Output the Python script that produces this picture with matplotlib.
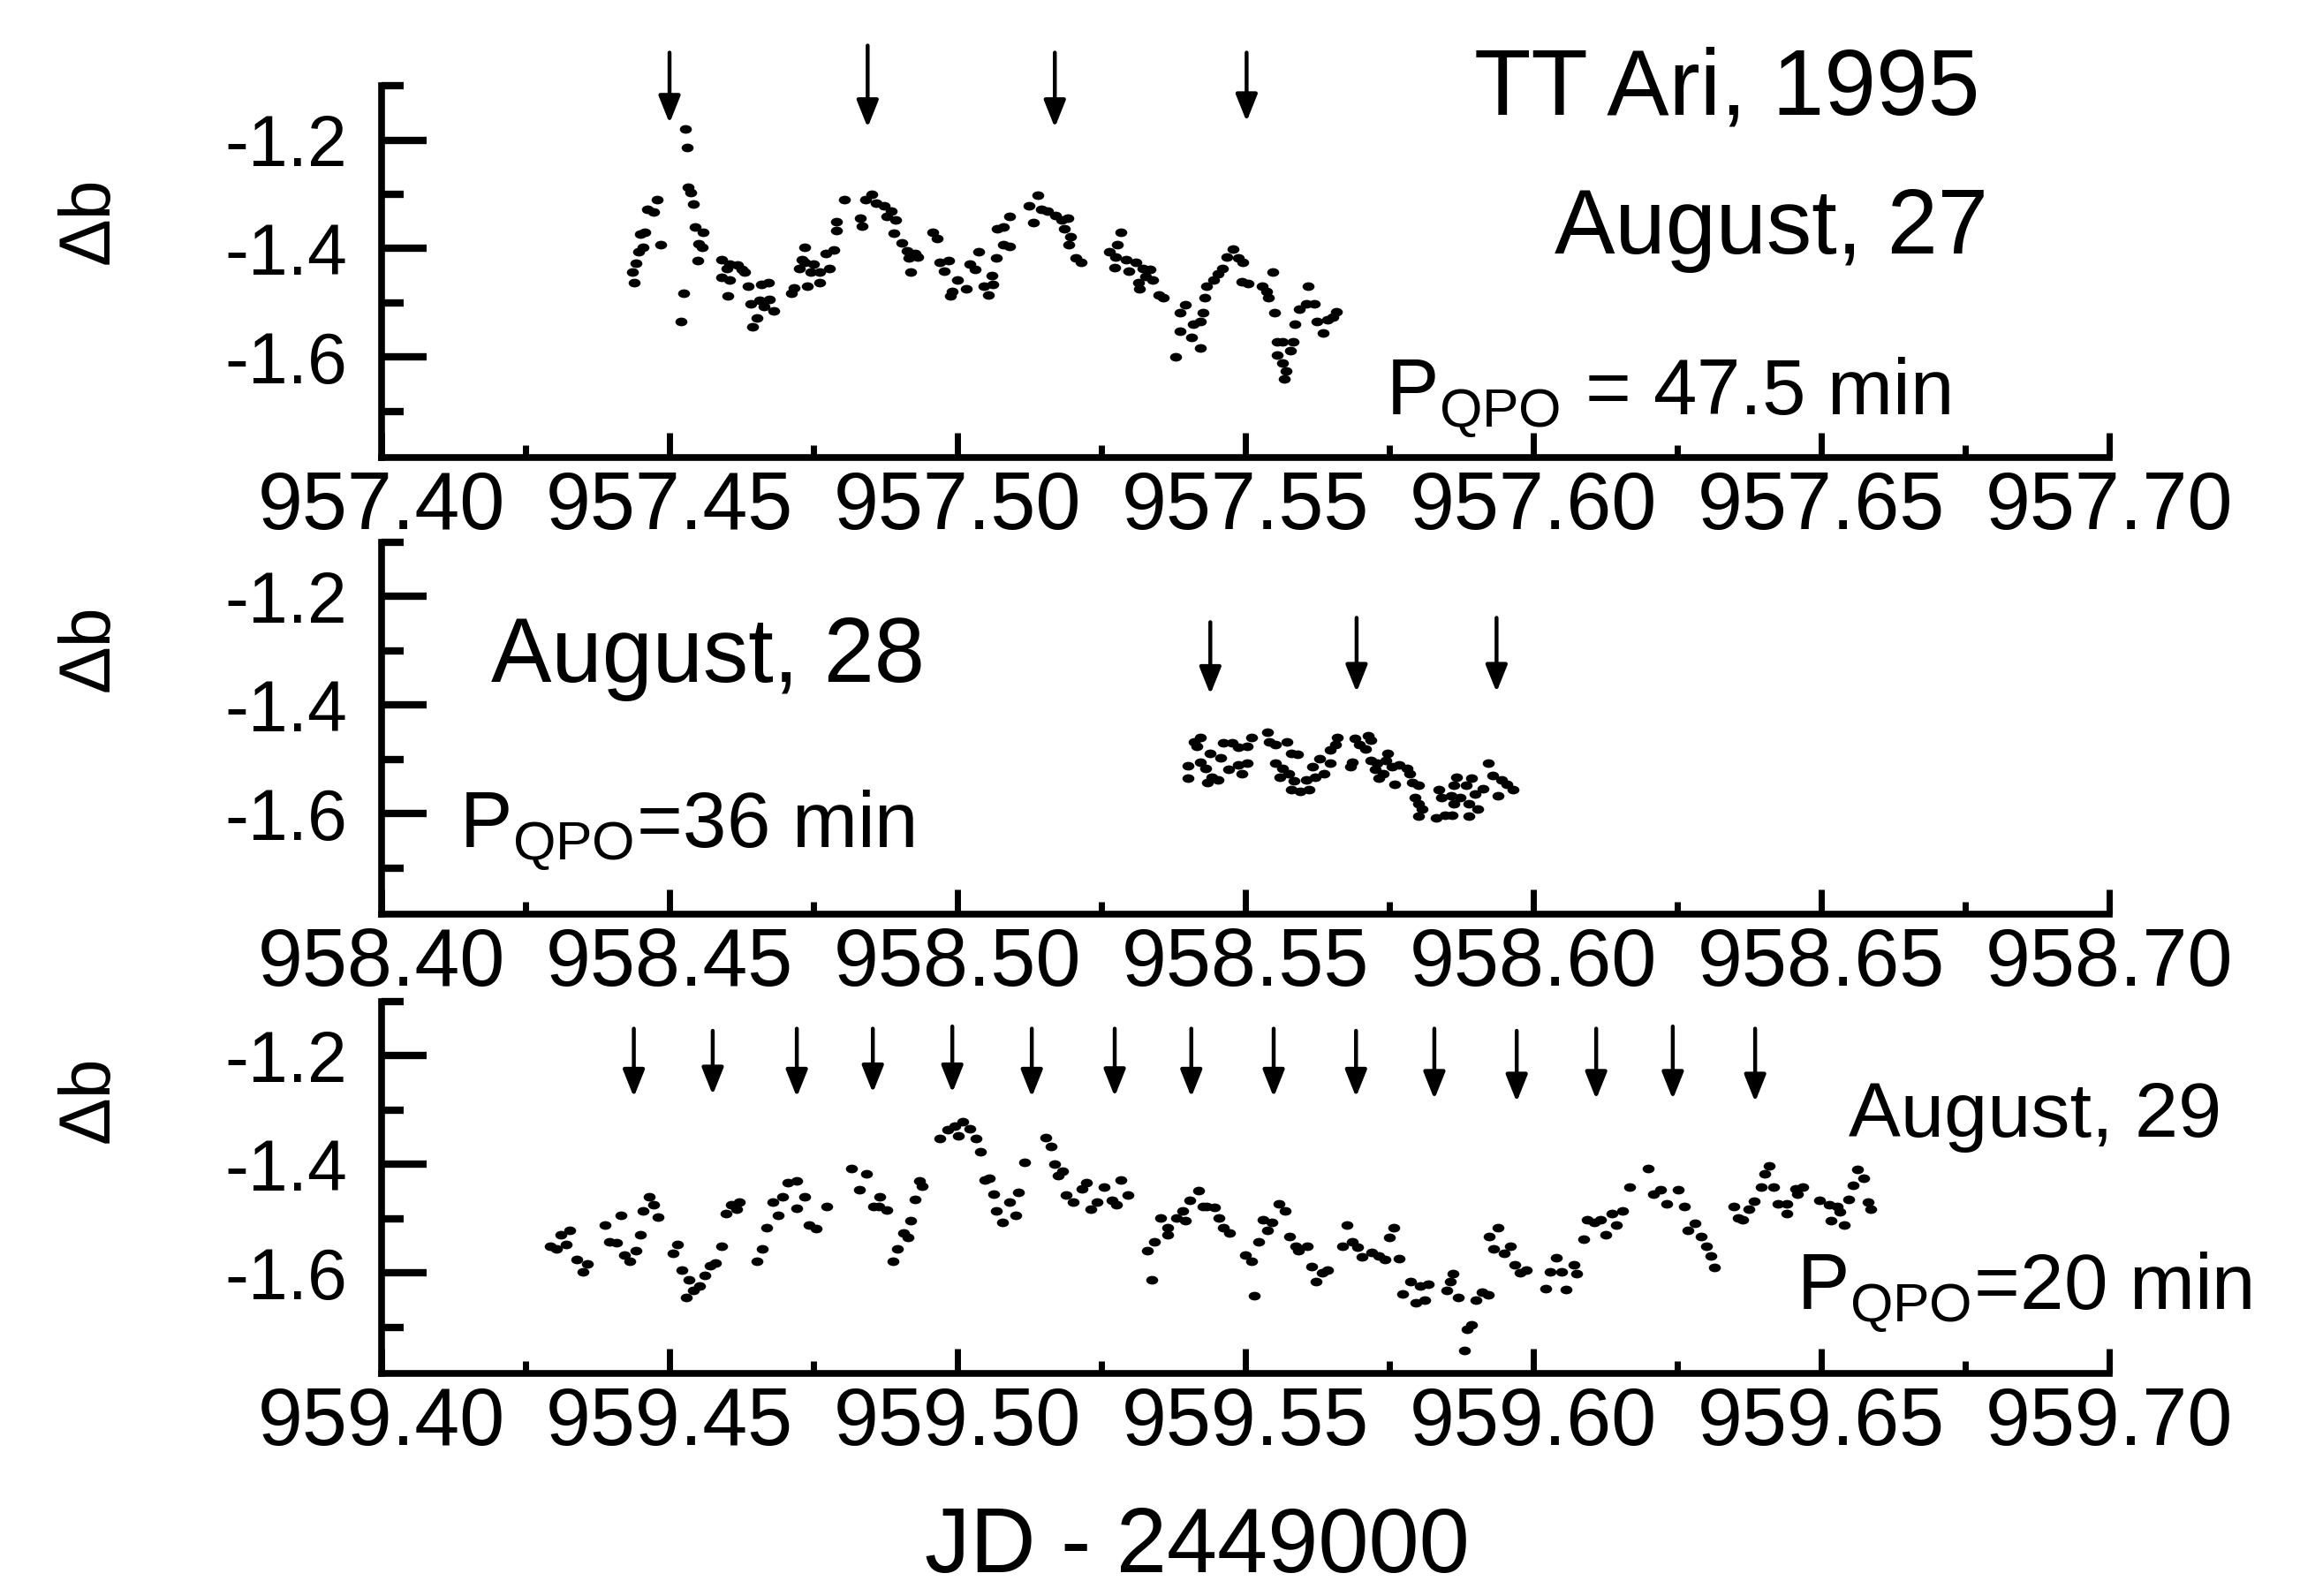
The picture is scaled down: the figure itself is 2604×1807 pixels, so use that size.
import matplotlib
matplotlib.use("Agg")
import matplotlib.pyplot as plt
from matplotlib.path import Path
from matplotlib.transforms import Affine2D
from matplotlib.ticker import FixedLocator, FormatStrFormatter

plt.rcParams['font.family'] = ['Liberation Sans', 'DejaVu Sans']
plt.rcParams['mathtext.fontset'] = 'custom'
plt.rcParams['mathtext.rm'] = 'Liberation Sans'
plt.rcParams['mathtext.it'] = 'Liberation Sans:italic'
plt.rcParams['axes.unicode_minus'] = False

# ---- August 27 (JD - 2449000) ----
aug27_jd = [957.4439, 957.4436, 957.4442, 957.4446, 957.4454, 957.4449, 957.4457, 957.4462, 957.4472, 957.4479, 957.4485,
            957.4527, 957.4530, 957.4532, 957.4537, 957.4541, 957.4545, 957.4559, 957.4551, 957.4557, 957.4549, 957.4525, 957.4520,
            957.4590, 957.4605, 957.4618, 957.4600, 957.4626, 957.4631, 957.4590, 957.4605, 957.4601, 957.4636, 957.4659, 957.4672,
            957.4641, 957.4657, 957.4674, 957.4664, 957.4681, 957.4652, 957.4644,
            957.4712, 957.4716, 957.4739, 957.4760, 957.4725, 957.4735, 957.4750, 957.4730, 957.4735, 957.4745, 957.4761, 957.4777,
            957.4772, 957.4785, 957.4790, 957.4790, 957.4803, 957.4831, 957.4835, 957.4841, 957.4851, 957.4859, 957.4872, 957.4885,
            957.4877, 957.4892, 957.4890, 957.4903, 957.4913, 957.4926, 957.4915, 957.4931, 957.4918,
            957.4957, 957.4964, 957.4969, 957.4985, 957.4977, 957.5000, 957.4990, 957.4987, 957.5015, 957.5021, 957.5031, 957.5036,
            957.5046, 957.5054, 957.5059, 957.5062, 957.5067, 957.5069,
            957.5080, 957.5080, 957.5091, 957.5091, 957.5124, 957.5139, 957.5132, 957.5145, 957.5157, 957.5170, 957.5181, 957.5191,
            957.5186, 957.5196, 957.5193, 957.5206, 957.5214,
            957.5283, 957.5278, 957.5263, 957.5275, 957.5273, 957.5293, 957.5309, 957.5298, 957.5322, 957.5334, 957.5327, 957.5314,
            957.5339, 957.5316, 957.5350, 957.5357,
            957.5396, 957.5386, 957.5427, 957.5422, 957.5409, 957.5386, 957.5406, 957.5422, 957.5378,
            957.5429, 957.5432, 957.5445, 957.5452, 957.5460, 957.5468, 957.5478, 957.5488, 957.5496, 957.5493, 957.5504,
            957.5529, 957.5537, 957.5540, 957.5547, 957.5550, 957.5555, 957.5565, 957.5583, 957.5578, 957.5555, 957.5565, 957.5570,
            957.5568,
            957.5586, 957.5593, 957.5606, 957.5619, 957.5609, 957.5624, 957.5635, 957.5642, 957.5652, 957.5658]
aug27_db = [-1.462, -1.444, -1.427, -1.405, -1.398, -1.374, -1.370, -1.328, -1.333, -1.310, -1.393,
            -1.180, -1.214, -1.287, -1.296, -1.318, -1.360, -1.370, -1.391, -1.397, -1.422, -1.482, -1.535,
            -1.420, -1.428, -1.431, -1.436, -1.439, -1.444, -1.453, -1.458, -1.487, -1.470, -1.466, -1.462,
            -1.501, -1.496, -1.493, -1.507, -1.515, -1.528, -1.544,
            -1.482, -1.472, -1.469, -1.462, -1.436, -1.425, -1.428, -1.420, -1.397, -1.444, -1.444, -1.437,
            -1.409, -1.402, -1.366, -1.350, -1.310, -1.344, -1.358, -1.310, -1.300, -1.317, -1.322, -1.331,
            -1.341, -1.347, -1.371, -1.390, -1.404, -1.409, -1.417, -1.415, -1.444,
            -1.370, -1.382, -1.425, -1.422, -1.442, -1.458, -1.479, -1.487, -1.474, -1.428, -1.439, -1.405,
            -1.469, -1.485, -1.450, -1.466, -1.417, -1.363,
            -1.360, -1.393, -1.396, -1.340, -1.322, -1.301, -1.352, -1.328, -1.331, -1.339, -1.347, -1.344,
            -1.363, -1.378, -1.392, -1.417, -1.425,
            -1.370, -1.393, -1.406, -1.415, -1.435, -1.420, -1.425, -1.442, -1.436, -1.439, -1.452, -1.463,
            -1.458, -1.474, -1.485, -1.490,
            -1.504, -1.518, -1.518, -1.534, -1.539, -1.553, -1.564, -1.583, -1.600,
            -1.490, -1.469, -1.458, -1.447, -1.436, -1.415, -1.401, -1.417, -1.425, -1.461, -1.464,
            -1.469, -1.479, -1.490, -1.444, -1.518, -1.572, -1.572, -1.572, -1.588, -1.596, -1.610, -1.626,
            -1.640,
            -1.539, -1.512, -1.501, -1.501, -1.469, -1.534, -1.555, -1.531, -1.526, -1.517]

# ---- August 28 ----
aug28_jd = [958.5421, 958.5416, 958.5411, 958.5400, 958.5400, 958.5421, 958.5439, 958.5431, 958.5441, 958.5434, 958.5452,
            958.5462, 958.5477, 958.5457, 958.5470, 958.5488, 958.5503, 958.5493, 958.5488, 958.5503, 958.5511, 958.5539,
            958.5541, 958.5552, 958.5572, 958.5580, 958.5590, 958.5552, 958.5565, 958.5559, 958.5575, 958.5585, 958.5580,
            958.5595, 958.5611, 958.5606, 958.5621, 958.5636, 958.5616, 958.5629, 958.5647, 958.5647, 958.5657, 958.5659,
            958.5685, 958.5682, 958.5690, 958.5698, 958.5713, 958.5718, 958.5708, 958.5718, 958.5729, 958.5747, 958.5744,
            958.5726, 958.5739, 958.5754, 958.5767, 958.5780, 958.5785, 958.5731, 958.5759, 958.5790, 958.5800, 958.5795,
            958.5800, 958.5806, 958.5800, 958.5831, 958.5847, 958.5859, 958.5836, 958.5841, 958.5857, 958.5867, 958.5862,
            958.5883, 958.5893, 958.5888, 958.5903, 958.5888, 958.5898, 958.5913, 958.5921, 958.5929, 958.5944, 958.5954,
            958.5965, 958.5939, 958.5872, 958.5862]
aug28_db = [-1.459, -1.475, -1.467, -1.511, -1.535, -1.505, -1.489, -1.516, -1.532, -1.543, -1.537,
            -1.470, -1.470, -1.497, -1.518, -1.510, -1.507, -1.526, -1.478, -1.475, -1.459, -1.449,
            -1.467, -1.472, -1.468, -1.488, -1.491, -1.507, -1.516, -1.532, -1.526, -1.540, -1.556,
            -1.559, -1.556, -1.537, -1.532, -1.526, -1.513, -1.499, -1.507, -1.483, -1.472, -1.459,
            -1.505, -1.513, -1.461, -1.472, -1.456, -1.464, -1.480, -1.502, -1.507, -1.489, -1.502,
            -1.518, -1.526, -1.513, -1.510, -1.516, -1.526, -1.535, -1.545, -1.543, -1.548, -1.570,
            -1.581, -1.591, -1.605, -1.608, -1.602, -1.602, -1.556, -1.570, -1.567, -1.532, -1.548,
            -1.548, -1.535, -1.581, -1.591, -1.605, -1.564, -1.554, -1.507, -1.529, -1.537, -1.545,
            -1.556, -1.567, -1.570, -1.581]

# ---- August 29 ----
aug29_jd = [959.4293, 959.4303, 959.4311, 959.4326, 959.4321, 959.4339, 959.4357, 959.4349, 959.4388, 959.4396, 959.4408,
            959.4415, 959.4421, 959.4431, 959.4442, 959.4449, 959.4454, 959.4464, 959.4472, 959.4480, 959.4513, 959.4506,
            959.4521, 959.4534, 959.4552, 959.4542, 959.4529, 959.4562, 959.4570, 959.4580, 959.4590, 959.4598, 959.4608,
            959.4621, 959.4616, 959.4652, 959.4661, 959.4669, 959.4680, 959.4696, 959.4689, 959.4706, 959.4721, 959.4734,
            959.4721, 959.4742, 959.4755, 959.4773, 959.4816, 959.4842, 959.4829, 959.4855,
            959.4865, 959.4863, 959.4878, 959.4906, 959.4914, 959.4896, 959.4888, 959.4919, 959.4927, 959.4934, 959.4939,
            959.4970, 959.4983, 959.4996, 959.5009, 959.5001, 959.5022, 959.5032, 959.5040, 959.5047, 959.5055, 959.5063,
            959.5091, 959.5106, 959.5068, 959.5101, 959.5078, 959.5116, 959.5154, 959.5163, 959.5169, 959.5183, 959.5175,
            959.5188, 959.5201, 959.5224, 959.5216, 959.5232, 959.5242, 959.5255, 959.5268, 959.5276, 959.5283, 959.5296,
            959.5329, 959.5337, 959.5342, 959.5352, 959.5365, 959.5365, 959.5381, 959.5391, 959.5396, 959.5404, 959.5419,
            959.5427,
            959.5433, 959.5446, 959.5454, 959.5461, 959.5472, 959.5500, 959.5510, 959.5515, 959.5523, 959.5530, 959.5546,
            959.5538, 959.5558, 959.5569, 959.5576, 959.5587, 959.5592, 959.5607, 959.5615, 959.5633, 959.5643, 959.5622,
            959.5677, 959.5668, 959.5686, 959.5694, 959.5702, 959.5719, 959.5732, 959.5742, 959.5758, 959.5750, 959.5766,
            959.5773, 959.5786, 959.5804, 959.5817, 959.5796, 959.5811, 959.5850, 959.5855, 959.5861, 959.5870, 959.5885,
            959.5893, 959.5880, 959.5900, 959.5911, 959.5921, 959.5923, 959.5939, 959.5931, 959.5949, 959.5960, 959.5967,
            959.5977, 959.5988,
            959.6021, 959.6057, 959.6029, 959.6049, 959.6039, 959.6070, 959.6075, 959.6087, 959.6093, 959.6106, 959.6116,
            959.6126, 959.6144, 959.6136, 959.6154, 959.6167, 959.6200, 959.6208, 959.6221, 959.6251, 959.6231, 959.6262,
            959.6280, 959.6269, 959.6292, 959.6300, 959.6308, 959.6315, 959.6348, 959.6356, 959.6364, 959.6374, 959.6384,
            959.6395, 959.6402, 959.6410, 959.6417, 959.6425, 959.6440, 959.6440, 959.6456, 959.6458, 959.6468, 959.6497,
            959.6514, 959.6527, 959.6532, 959.6517, 959.6539, 959.6547, 959.6555, 959.6563, 959.6573, 959.6581, 959.6586]
aug29_db = [-1.551, -1.556, -1.529, -1.521, -1.547, -1.575, -1.583, -1.598, -1.511, -1.542, -1.545,
            -1.494, -1.567, -1.578, -1.559, -1.529, -1.486, -1.460, -1.475, -1.497, -1.547, -1.564,
            -1.594, -1.613, -1.624, -1.632, -1.646, -1.605, -1.586, -1.581, -1.551, -1.491, -1.475,
            -1.470, -1.483, -1.578, -1.555, -1.516, -1.470, -1.460, -1.494, -1.433, -1.430, -1.460,
            -1.481, -1.511, -1.518, -1.478, -1.407, -1.418, -1.446, -1.478,
            -1.460, -1.478, -1.484, -1.526, -1.535, -1.555, -1.578, -1.503, -1.464, -1.430, -1.440,
            -1.352, -1.336, -1.329, -1.321, -1.348, -1.334, -1.352, -1.377, -1.429, -1.426, -1.455,
            -1.470, -1.451, -1.486, -1.494, -1.507, -1.396, -1.350, -1.367, -1.399, -1.413, -1.421,
            -1.456, -1.470, -1.433, -1.445, -1.483, -1.470, -1.442, -1.467, -1.475, -1.429, -1.456,
            -1.559, -1.612, -1.543, -1.498, -1.529, -1.516, -1.499, -1.486, -1.504, -1.467, -1.448,
            -1.478,
            -1.478, -1.480, -1.499, -1.516, -1.526, -1.567, -1.578, -1.642, -1.543, -1.502, -1.507,
            -1.521, -1.472, -1.486, -1.533, -1.551, -1.559, -1.551, -1.589, -1.600, -1.594, -1.616,
            -1.511, -1.551, -1.543, -1.552, -1.570, -1.563, -1.569, -1.575, -1.516, -1.535, -1.573,
            -1.638, -1.616, -1.624, -1.620, -1.655, -1.650, -1.632, -1.616, -1.602, -1.646, -1.703,
            -1.695, -1.743, -1.650, -1.635, -1.641, -1.533, -1.516, -1.556, -1.564, -1.551, -1.585,
            -1.600, -1.594,
            -1.629, -1.631, -1.598, -1.598, -1.572, -1.585, -1.602, -1.538, -1.502, -1.507, -1.502,
            -1.529, -1.511, -1.490, -1.486, -1.442, -1.408, -1.455, -1.446, -1.446, -1.473, -1.478,
            -1.509, -1.521, -1.533, -1.551, -1.569, -1.590, -1.478, -1.499, -1.502, -1.483, -1.468,
            -1.442, -1.417, -1.403, -1.442, -1.472, -1.491, -1.473, -1.445, -1.455, -1.442, -1.466,
            -1.475, -1.478, -1.487, -1.504, -1.511, -1.464, -1.439, -1.410, -1.426, -1.470, -1.482]

# QPO arrows: position, tail and tip (delta b)
arr27_jd = [957.4500, 957.4844, 957.5169, 957.5502]
arr27_top = [-1.039, -1.026, -1.039, -1.039]
arr27_tip = [-1.169, -1.177, -1.177, -1.166]

arr28_jd = [958.5439, 958.5693, 958.5936]
arr28_top = [-1.247, -1.239, -1.239]
arr28_tip = [-1.380, -1.376, -1.376]

arr29_jd = [959.4438, 959.4575, 959.4721, 959.4853, 959.4991, 959.5129, 959.5273, 959.5406,
            959.5549, 959.5692, 959.5828, 959.5971, 959.6109, 959.6242, 959.6385]
arr29_top = [-1.150, -1.154, -1.150, -1.150, -1.146, -1.150, -1.150, -1.150,
             -1.150, -1.154, -1.150, -1.154, -1.150, -1.146, -1.150]
arr29_tip = [-1.276, -1.272, -1.276, -1.268, -1.268, -1.276, -1.275, -1.276,
             -1.276, -1.276, -1.280, -1.285, -1.280, -1.280, -1.285]

xticks27 = [957.40, 957.45, 957.50, 957.55, 957.60, 957.65, 957.70]
xticks28 = [958.40, 958.45, 958.50, 958.55, 958.60, 958.65, 958.70]
xticks29 = [959.40, 959.45, 959.50, 959.55, 959.60, 959.65, 959.70]
yticks = [-1.2, -1.4, -1.6]
yminor = [-1.1, -1.3, -1.5, -1.7]
ylims = (-1.785, -1.1)

panels = [
    (aug27_jd, aug27_db, arr27_jd, arr27_top, arr27_tip, xticks27),
    (aug28_jd, aug28_db, arr28_jd, arr28_top, arr28_tip, xticks28),
    (aug29_jd, aug29_db, arr29_jd, arr29_top, arr29_tip, xticks29),
]

fig = plt.figure(figsize=(26.04, 18.07), dpi=100)
rects = [[0.1659, 0.7133, 0.7512, 0.2330],
         [0.1659, 0.4272, 0.7512, 0.2330],
         [0.1659, 0.1395, 0.7512, 0.2330]]

# slightly flattened dot, like the scanned markers
dot = Path.unit_circle().transformed(Affine2D().scale(1.0, 0.72))

for rect, (jd, db, ajd, atop, atip, xt) in zip(rects, panels):
    ax = fig.add_axes(rect)
    ax.plot(jd, db, ls='none', marker=dot, ms=9.8, color='k', mew=0)

    for xa, yt, yh in zip(ajd, atop, atip):
        ax.annotate('', xy=(xa, yh), xytext=(xa, yt), annotation_clip=False,
                    arrowprops=dict(arrowstyle='-|>,head_length=0.75,head_width=0.3',
                                    lw=3.2, color='k', shrinkA=0, shrinkB=0,
                                    mutation_scale=25))

    ax.set_xlim(xt[0], xt[-1])
    ax.set_ylim(*ylims)
    ax.spines['top'].set_visible(False)
    ax.spines['right'].set_visible(False)
    ax.spines['left'].set_linewidth(5.5)
    ax.spines['bottom'].set_linewidth(5.5)

    ax.xaxis.set_major_locator(FixedLocator(xt))
    ax.xaxis.set_minor_locator(FixedLocator([(a + b) / 2 for a, b in zip(xt[:-1], xt[1:])]))
    ax.xaxis.set_major_formatter(FormatStrFormatter('%.2f'))
    ax.yaxis.set_major_locator(FixedLocator(yticks))
    ax.yaxis.set_minor_locator(FixedLocator(yminor))
    ax.yaxis.set_major_formatter(FormatStrFormatter('%.1f'))

    ax.tick_params(axis='x', which='major', direction='in', length=20, width=5,
                   labelsize=66, pad=10, top=False)
    ax.tick_params(axis='x', which='minor', direction='in', length=10, width=5, top=False)
    ax.tick_params(axis='y', which='major', direction='in', length=37, width=6,
                   labelsize=58, pad=28, right=False)
    ax.tick_params(axis='y', which='minor', direction='in', length=18, width=6, right=False)

    for sp in ('left', 'bottom'):
        ax.spines[sp].set_capstyle('projecting')

# y labels
for yc in (0.862, 0.594, 0.311):
    fig.text(0.039, yc, 'Δb', rotation=90, ha='center', va='center', fontsize=58)

fig.text(0.6409, 0.9283, 'TT Ari, 1995', fontsize=76, ha='left', va='baseline')
fig.text(0.676, 0.841, 'August, 27', fontsize=74, ha='left', va='baseline')
fig.text(0.6027, 0.740, r'P$_{\rm QPO}$ = 47.5 min', fontsize=64, ha='left', va='baseline')
fig.text(0.2136, 0.5726, 'August, 28', fontsize=74, ha='left', va='baseline')
fig.text(0.1996, 0.4688, r'P$_{\rm QPO}$=36 min', fontsize=64, ha='left', va='baseline')
fig.text(0.8036, 0.2877, 'August, 29', fontsize=63.5, ha='left', va='baseline')
fig.text(0.7812, 0.1792, r'P$_{\rm QPO}$=20 min', fontsize=64, ha='left', va='baseline')
fig.text(0.5204, 0.0147, 'JD - 2449000', fontsize=74, ha='center', va='baseline')

fig.savefig('out.png', dpi=100, facecolor='white')
